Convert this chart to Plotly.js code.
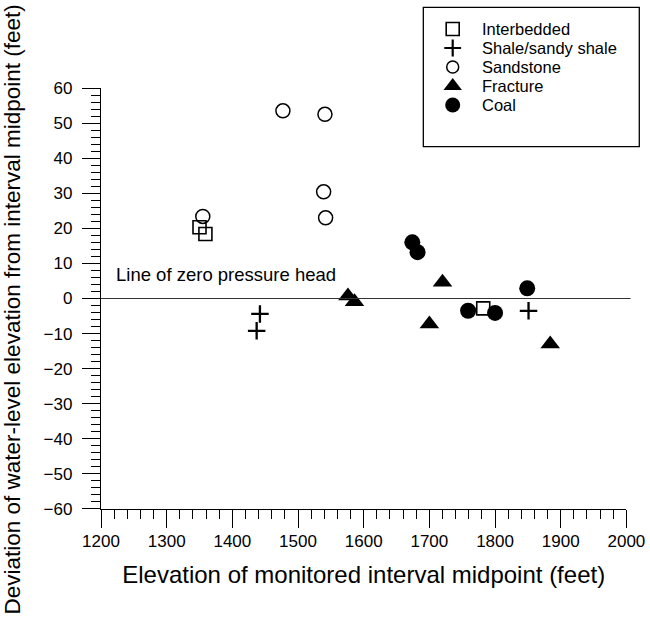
<!DOCTYPE html>
<html>
<head>
<meta charset="utf-8">
<script src="https://cdn.plot.ly/plotly-3.0.1.min.js"></script>
<style>
  html, body { margin: 0; padding: 0; background: #fff; }
  #chart { width: 650px; height: 617px; }
</style>
</head>
<body>
<div id="chart"></div>
<script>
// ---- Data ----
const categories = ['Interbedded', 'Shale/sandy shale', 'Sandstone', 'Fracture', 'Coal'];

const interbeddedX = [1350, 1359, 1782];
const interbeddedY = [20.3, 18.4, -2.8];

const shaleX = [1442, 1437, 1851];
const shaleY = [-4.4, -9.2, -3.5];

const sandstoneX = [1477, 1541, 1539, 1542, 1355];
const sandstoneY = [53.5, 52.5, 30.4, 23.0, 23.4];

const fractureX = [1576, 1586, 1720, 1700, 1884];
const fractureY = [0.7, -0.9, 4.6, -7.3, -13.0];

const coalX = [1674, 1682, 1759, 1800, 1849];
const coalY = [16.0, 13.2, -3.5, -4.1, 2.9];

const xTickVals = [1200, 1300, 1400, 1500, 1600, 1700, 1800, 1900, 2000];
const yTickVals = [-60, -50, -40, -30, -20, -10, 0, 10, 20, 30, 40, 50, 60];

const zeroLineLabel = 'Line of zero pressure head';
const xTitle = 'Elevation of monitored interval midpoint (feet)';
const yTitle = 'Deviation of water-level elevation from interval midpoint (feet)';

// ---- Styles ----
const FONT = 'Liberation Sans, Arial, Helvetica, sans-serif';
const symbols = ['square-open', 'cross-thin-open', 'circle-open', 'triangle-up', 'circle'];
const sizes = [13, 12.5, 14, 17, 16];
const lineWidths = [1.6, 2.3, 1.5, 0, 0];
const legendSizes = [13, 12, 12, 16, 15];
const legendLineWidths = [1.6, 2.2, 1.5, 0, 0];

const series = [
  [interbeddedX, interbeddedY],
  [shaleX, shaleY],
  [sandstoneX, sandstoneY],
  [fractureX, fractureY],
  [coalX, coalY]
];

const traces = series.map(function (s, i) {
  return {
    type: 'scatter', mode: 'markers', name: categories[i],
    x: s[0], y: s[1], xaxis: 'x', yaxis: 'y',
    cliponaxis: false, showlegend: false, hoverinfo: 'x+y+name',
    marker: { symbol: symbols[i], size: sizes[i], color: '#000',
              line: { color: '#000', width: lineWidths[i] } }
  };
});

// Custom legend: one symbol per category on a hidden axis pair (row index = category index)
categories.forEach(function (c, i) {
  traces.push({
    type: 'scatter', mode: 'markers', xaxis: 'x2', yaxis: 'y2', name: c,
    x: [0.6465], y: [i],
    cliponaxis: false, showlegend: false, hoverinfo: 'skip',
    marker: { symbol: symbols[i], size: legendSizes[i], color: '#000',
              line: { color: '#000', width: legendLineWidths[i] } }
  });
});

const annotations = categories.map(function (c, i) {
  return { text: c, xref: 'x2', yref: 'y2', x: 0.6967, y: i,
           xanchor: 'left', yanchor: 'middle', showarrow: false,
           font: { family: FONT, size: 16.5, color: '#000' } };
});
annotations.push({
  text: zeroLineLabel, xref: 'x', yref: 'y', x: 1220, y: 6.7,
  xanchor: 'left', yanchor: 'middle', showarrow: false,
  font: { family: FONT, size: 18.5, color: '#000' }
});
annotations.push({
  text: yTitle, xref: 'paper', yref: 'paper', x: -0.1618, y: 0.3958,
  xanchor: 'center', yanchor: 'middle', textangle: -90, showarrow: false,
  font: { family: FONT, size: 22.5, color: '#000' }
});

const layout = {
  width: 650, height: 617,
  margin: { l: 101, r: 5, t: 5, b: 108 },
  paper_bgcolor: '#fff', plot_bgcolor: 'rgba(0,0,0,0)',
  showlegend: false,
  font: { family: FONT, color: '#000' },
  xaxis: {
    domain: [0, 0.9658], anchor: 'y',
    range: [1200, 2000], tickmode: 'array', tickvals: xTickVals,
    ticks: 'outside', ticklen: 18, tickwidth: 1, tickcolor: '#000',
    minor: { dtick: 20, tick0: 1200, ticks: 'outside', ticklen: 9, tickwidth: 1, tickcolor: '#000', showgrid: false },
    showline: true, linecolor: '#000', linewidth: 1.2,
    showgrid: false, zeroline: false,
    tickfont: { family: FONT, size: 17, color: '#000' },
    ticklabelstandoff: -2,
    title: { text: xTitle, font: { family: FONT, size: 24, color: '#000' }, standoff: 16 }
  },
  yaxis: {
    domain: [0, 0.8353], anchor: 'x',
    range: [-60, 60], tickmode: 'array', tickvals: yTickVals,
    ticks: 'outside', ticklen: 18, tickwidth: 1, tickcolor: '#000',
    minor: { dtick: 2, tick0: 0, ticks: 'outside', ticklen: 9, tickwidth: 1, tickcolor: '#000', showgrid: false },
    showline: true, linecolor: '#000', linewidth: 1.2,
    showgrid: false, zeroline: false,
    tickfont: { family: FONT, size: 17, color: '#000' },
    ticklabelstandoff: 6
  },
  xaxis2: { domain: [0, 1], anchor: 'y2', range: [0, 1], visible: false, fixedrange: true },
  yaxis2: { domain: [0, 1], anchor: 'x2', range: [25.263, -1.263], visible: false, fixedrange: true },
  shapes: [
    { type: 'line', xref: 'x domain', yref: 'y', x0: 0, x1: 1.008, y0: 0, y1: 0,
      line: { color: '#333', width: 1 } },
    { type: 'rect', xref: 'paper', yref: 'paper', x0: 0.5925, x1: 0.9895, y0: 0.7188, y1: 0.9954,
      line: { color: '#000', width: 1.3 }, fillcolor: 'rgba(0,0,0,0)' }
  ],
  annotations: annotations
};

Plotly.newPlot('chart', traces, layout, { displayModeBar: false, staticPlot: true });
</script>
</body>
</html>
